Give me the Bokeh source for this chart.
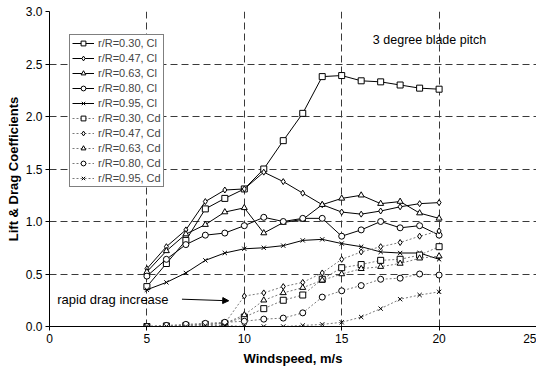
from bokeh.plotting import figure
from bokeh.models import (Legend, LegendItem, Label, Arrow, NormalHead,
                          FixedTicker, NumeralTickFormatter)
from bokeh.embed import file_html
from bokeh.resources import INLINE

# ---- data ----
windspeed = [5, 6, 7, 8, 9, 10, 11, 12, 13, 14, 15, 16, 17, 18, 19, 20]

cl_030 = [0.38, 0.60, 0.82, 1.12, 1.22, 1.31, 1.50, 1.77, 2.03, 2.38, 2.39, 2.34, 2.33, 2.30, 2.27, 2.26]
cl_047 = [0.55, 0.76, 0.92, 1.19, 1.30, 1.31, 1.47, 1.38, 1.27, 1.16, 1.09, 1.07, 1.10, 1.14, 1.17, 1.18]
cl_063 = [0.52, 0.72, 0.88, 0.97, 1.09, 1.13, 0.89, 0.99, 1.02, 1.16, 1.22, 1.25, 1.17, 1.19, 1.08, 1.03]
cl_080 = [0.48, 0.64, 0.78, 0.87, 0.89, 0.96, 1.04, 1.00, 1.03, 1.03, 0.86, 0.92, 1.00, 0.94, 0.96, 0.87]
cl_095 = [0.35, 0.42, 0.51, 0.63, 0.70, 0.74, 0.75, 0.77, 0.82, 0.83, 0.79, 0.76, 0.71, 0.70, 0.70, 0.64]

cd_030 = [0.0, 0.005, 0.01, 0.02, 0.03, 0.09, 0.17, 0.25, 0.30, 0.45, 0.56, 0.59, 0.63, 0.64, 0.68, 0.76]
cd_047 = [0.0, 0.005, 0.01, 0.02, 0.03, 0.29, 0.32, 0.38, 0.42, 0.51, 0.64, 0.71, 0.76, 0.80, 0.86, 0.91]
cd_063 = [0.0, 0.005, 0.01, 0.02, 0.03, 0.11, 0.25, 0.32, 0.37, 0.44, 0.50, 0.55, 0.57, 0.60, 0.65, 0.67]
cd_080 = [0.0, 0.01, 0.02, 0.03, 0.04, 0.05, 0.07, 0.08, 0.13, 0.28, 0.34, 0.39, 0.45, 0.46, 0.50, 0.49]
cd_095 = [0.0, 0.0, 0.0, 0.01, 0.01, 0.0, 0.0, 0.0, 0.01, 0.02, 0.04, 0.09, 0.17, 0.26, 0.30, 0.33]

x_ticks = [0, 5, 10, 15, 20, 25]
y_ticks = [0.0, 0.5, 1.0, 1.5, 2.0, 2.5, 3.0]

series = [
    ("r/R=0.30, Cl", cl_030, "square", "cl"),
    ("r/R=0.47, Cl", cl_047, "diamond", "cl"),
    ("r/R=0.63, Cl", cl_063, "triangle", "cl"),
    ("r/R=0.80, Cl", cl_080, "circle", "cl"),
    ("r/R=0.95, Cl", cl_095, "x", "cl"),
    ("r/R=0.30, Cd", cd_030, "square", "cd"),
    ("r/R=0.47, Cd", cd_047, "diamond", "cd"),
    ("r/R=0.63, Cd", cd_063, "triangle", "cd"),
    ("r/R=0.80, Cd", cd_080, "circle", "cd"),
    ("r/R=0.95, Cd", cd_095, "x", "cd"),
]

FONT = "Liberation Sans"

p = figure(width=536, height=368, output_backend="svg", toolbar_location=None,
           x_range=(0, 25), y_range=(0, 3.0),
           min_border_left=49, min_border_right=0, min_border_top=11,
           min_border_bottom=40)
p.outline_line_color = None
p.background_fill_color = "white"

# axes
p.xaxis.ticker = FixedTicker(ticks=x_ticks)
p.yaxis.ticker = FixedTicker(ticks=y_ticks)
p.yaxis.formatter = NumeralTickFormatter(format="0.0")
for ax in (p.xaxis[0], p.yaxis[0]):
    ax.axis_line_color = "black"
    ax.axis_line_width = 1
    ax.major_tick_out = 4
    ax.major_tick_in = 0
    ax.minor_tick_line_color = None
    ax.major_tick_line_color = "black"
    ax.major_label_text_font = FONT
    ax.major_label_text_font_size = "12px"
    ax.major_label_text_color = "black"
    ax.axis_label_text_font = FONT
    ax.axis_label_text_font_style = "bold"
    ax.axis_label_text_font_size = "13px"
    ax.axis_label_text_color = "black"
    ax.major_label_standoff = 3
p.xaxis.axis_label = "Windspeed, m/s"
p.yaxis.axis_label = "Lift & Drag Coefficients"
p.xaxis.axis_label_standoff = 5
p.yaxis.axis_label_standoff = 2

# grid
p.xgrid.ticker = FixedTicker(ticks=[5, 10, 15, 20])
p.ygrid.ticker = FixedTicker(ticks=[0.5, 1.0, 1.5, 2.0, 2.5, 3.0])
for g in (p.xgrid[0], p.ygrid[0]):
    g.grid_line_color = "#3a3a3a"
    g.grid_line_dash = "7 4"
    g.grid_line_width = 1

items = []
for label, vals, marker, kind in series:
    if kind == "cl":
        lr = p.line(windspeed, vals, line_color="black", line_width=1)
    else:
        lr = p.line(windspeed, vals, line_color="#7a7a7a", line_width=1,
                    line_dash="2 2")
    sr = p.scatter(windspeed, vals, marker=marker, size=6,
                   line_color="black", fill_color="white", line_width=1)
    items.append(LegendItem(label=label, renderers=[lr, sr]))

legend = Legend(items=items, location=(20, 139), orientation="vertical")
legend.label_text_font = FONT
legend.label_text_font_size = "11px"
legend.label_height = 12
legend.glyph_height = 12
legend.glyph_width = 22
legend.spacing = 3
legend.padding = 2
legend.margin = 0
legend.label_standoff = 4
legend.border_line_color = "black"
legend.border_line_width = 1
legend.background_fill_color = "white"
legend.background_fill_alpha = 1.0
p.add_layout(legend, "center")

p.add_layout(Label(x=16.6, y=2.73, text="3 degree blade pitch",
                   text_font=FONT, text_font_size="12.5px",
                   text_baseline="middle", text_color="black"))
p.add_layout(Label(x=0.4, y=0.255, text="rapid drag increase",
                   text_font=FONT, text_font_size="13px",
                   text_baseline="middle", text_color="black"))
p.add_layout(Arrow(end=NormalHead(size=6, fill_color="black", line_color="black"),
                   x_start=6.8, y_start=0.26, x_end=9.2, y_end=0.245,
                   line_color="black", line_width=1))

open("out.html", "w").write(file_html(p, INLINE))
